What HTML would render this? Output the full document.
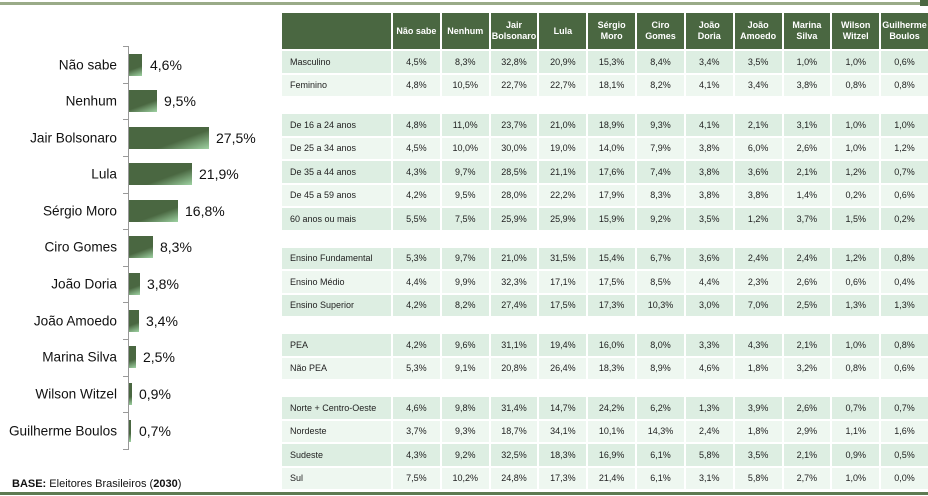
<!DOCTYPE html>
<html><head><meta charset="utf-8"><style>
body{margin:0;width:928px;height:496px;position:relative;background:#fff;font-family:"Liberation Sans",Arial,sans-serif;overflow:hidden}
.topline{position:absolute;left:0;top:2px;width:920px;height:3px;background:#9aab88}
.corner{position:absolute;left:920px;top:0;width:8px;height:6px;background:#4a6741}
.botline{position:absolute;left:0;top:492px;width:928px;height:3px;background:#5e7a52}
.lab{position:absolute;right:811px;font-size:13.6px;color:#111;white-space:nowrap;transform:translateY(-50%)}
.bar{position:absolute;left:129px;height:22px;background:linear-gradient(160deg,#4a6741 0%,#4a6741 62%,#9fd3a3 100%);transform:translateY(-50%)}
.val{position:absolute;font-size:14px;color:#111;transform:translateY(-50%)}
.axis{position:absolute;left:128px;top:46px;width:1px;height:404px;background:#999}
.tick{position:absolute;left:123px;width:5px;height:1px;background:#999}
.base{position:absolute;left:12px;top:478px;font-size:11px;color:#111}
table{position:absolute;left:280px;top:11px;border-collapse:separate;border-spacing:2px;table-layout:fixed;width:650px}
th{background:#4a6741;color:#fff;font-size:9px;font-weight:bold;height:36px;padding:0;line-height:11px;text-align:center}
td{font-size:9px;color:#222;height:21.5px;padding:0;text-align:center}
td:first-child{text-align:left;padding-left:8px}
tr.d td{background:#ddeee2}
tr.l td{background:#eef7f0}
tr.s td{height:14px;background:#fff}
</style></head><body>
<div class="topline"></div><div class="corner"></div><div class="botline"></div>
<div class="axis"></div>
<div class="tick" style="top:46px"></div><div class="tick" style="top:83px"></div><div class="tick" style="top:119px"></div><div class="tick" style="top:156px"></div><div class="tick" style="top:193px"></div><div class="tick" style="top:229px"></div><div class="tick" style="top:266px"></div><div class="tick" style="top:302px"></div><div class="tick" style="top:339px"></div><div class="tick" style="top:376px"></div><div class="tick" style="top:412px"></div><div class="tick" style="top:449px"></div>

<div class="lab" style="top:65px">Não sabe</div><div class="bar" style="top:65px;width:13px"></div><div class="val" style="top:65px;left:150px">4,6%</div>
<div class="lab" style="top:101px">Nenhum</div><div class="bar" style="top:101px;width:28px"></div><div class="val" style="top:101px;left:164px">9,5%</div>
<div class="lab" style="top:138px">Jair Bolsonaro</div><div class="bar" style="top:138px;width:80px"></div><div class="val" style="top:138px;left:216px">27,5%</div>
<div class="lab" style="top:174px">Lula</div><div class="bar" style="top:174px;width:63px"></div><div class="val" style="top:174px;left:199px">21,9%</div>
<div class="lab" style="top:211px">Sérgio Moro</div><div class="bar" style="top:211px;width:49px"></div><div class="val" style="top:211px;left:185px">16,8%</div>
<div class="lab" style="top:247px">Ciro Gomes</div><div class="bar" style="top:247px;width:24px"></div><div class="val" style="top:247px;left:160px">8,3%</div>
<div class="lab" style="top:284px">João Doria</div><div class="bar" style="top:284px;width:11px"></div><div class="val" style="top:284px;left:147px">3,8%</div>
<div class="lab" style="top:321px">João Amoedo</div><div class="bar" style="top:321px;width:10px"></div><div class="val" style="top:321px;left:146px">3,4%</div>
<div class="lab" style="top:357px">Marina Silva</div><div class="bar" style="top:357px;width:7px"></div><div class="val" style="top:357px;left:143px">2,5%</div>
<div class="lab" style="top:394px">Wilson Witzel</div><div class="bar" style="top:394px;width:3px"></div><div class="val" style="top:394px;left:139px">0,9%</div>
<div class="lab" style="top:431px">Guilherme Boulos</div><div class="bar" style="top:431px;width:2px"></div><div class="val" style="top:431px;left:139px">0,7%</div>
<div class="base"><b>BASE:</b> Eleitores Brasileiros (<b>2030</b>)</div>

<table>
<colgroup><col style="width:109px"><col span="11"></colgroup>
<tr><th></th><th>Não sabe</th><th>Nenhum</th><th>Jair<br>Bolsonaro</th><th>Lula</th><th>Sérgio<br>Moro</th><th>Ciro<br>Gomes</th><th>João<br>Doria</th><th>João<br>Amoedo</th><th>Marina<br>Silva</th><th>Wilson<br>Witzel</th><th>Guilherme<br>Boulos</th></tr>
<tr class="d"><td>Masculino</td><td>4,5%</td><td>8,3%</td><td>32,8%</td><td>20,9%</td><td>15,3%</td><td>8,4%</td><td>3,4%</td><td>3,5%</td><td>1,0%</td><td>1,0%</td><td>0,6%</td></tr>
<tr class="l"><td>Feminino</td><td>4,8%</td><td>10,5%</td><td>22,7%</td><td>22,7%</td><td>18,1%</td><td>8,2%</td><td>4,1%</td><td>3,4%</td><td>3,8%</td><td>0,8%</td><td>0,8%</td></tr>
<tr class="s"><td colspan="12"></td></tr>
<tr class="d"><td>De 16 a 24 anos</td><td>4,8%</td><td>11,0%</td><td>23,7%</td><td>21,0%</td><td>18,9%</td><td>9,3%</td><td>4,1%</td><td>2,1%</td><td>3,1%</td><td>1,0%</td><td>1,0%</td></tr>
<tr class="l"><td>De 25 a 34 anos</td><td>4,5%</td><td>10,0%</td><td>30,0%</td><td>19,0%</td><td>14,0%</td><td>7,9%</td><td>3,8%</td><td>6,0%</td><td>2,6%</td><td>1,0%</td><td>1,2%</td></tr>
<tr class="d"><td>De 35 a 44 anos</td><td>4,3%</td><td>9,7%</td><td>28,5%</td><td>21,1%</td><td>17,6%</td><td>7,4%</td><td>3,8%</td><td>3,6%</td><td>2,1%</td><td>1,2%</td><td>0,7%</td></tr>
<tr class="l"><td>De 45 a 59 anos</td><td>4,2%</td><td>9,5%</td><td>28,0%</td><td>22,2%</td><td>17,9%</td><td>8,3%</td><td>3,8%</td><td>3,8%</td><td>1,4%</td><td>0,2%</td><td>0,6%</td></tr>
<tr class="d"><td>60 anos ou mais</td><td>5,5%</td><td>7,5%</td><td>25,9%</td><td>25,9%</td><td>15,9%</td><td>9,2%</td><td>3,5%</td><td>1,2%</td><td>3,7%</td><td>1,5%</td><td>0,2%</td></tr>
<tr class="s"><td colspan="12"></td></tr>
<tr class="d"><td>Ensino Fundamental</td><td>5,3%</td><td>9,7%</td><td>21,0%</td><td>31,5%</td><td>15,4%</td><td>6,7%</td><td>3,6%</td><td>2,4%</td><td>2,4%</td><td>1,2%</td><td>0,8%</td></tr>
<tr class="l"><td>Ensino Médio</td><td>4,4%</td><td>9,9%</td><td>32,3%</td><td>17,1%</td><td>17,5%</td><td>8,5%</td><td>4,4%</td><td>2,3%</td><td>2,6%</td><td>0,6%</td><td>0,4%</td></tr>
<tr class="d"><td>Ensino Superior</td><td>4,2%</td><td>8,2%</td><td>27,4%</td><td>17,5%</td><td>17,3%</td><td>10,3%</td><td>3,0%</td><td>7,0%</td><td>2,5%</td><td>1,3%</td><td>1,3%</td></tr>
<tr class="s"><td colspan="12"></td></tr>
<tr class="d"><td>PEA</td><td>4,2%</td><td>9,6%</td><td>31,1%</td><td>19,4%</td><td>16,0%</td><td>8,0%</td><td>3,3%</td><td>4,3%</td><td>2,1%</td><td>1,0%</td><td>0,8%</td></tr>
<tr class="l"><td>Não PEA</td><td>5,3%</td><td>9,1%</td><td>20,8%</td><td>26,4%</td><td>18,3%</td><td>8,9%</td><td>4,6%</td><td>1,8%</td><td>3,2%</td><td>0,8%</td><td>0,6%</td></tr>
<tr class="s"><td colspan="12"></td></tr>
<tr class="d"><td>Norte + Centro-Oeste</td><td>4,6%</td><td>9,8%</td><td>31,4%</td><td>14,7%</td><td>24,2%</td><td>6,2%</td><td>1,3%</td><td>3,9%</td><td>2,6%</td><td>0,7%</td><td>0,7%</td></tr>
<tr class="l"><td>Nordeste</td><td>3,7%</td><td>9,3%</td><td>18,7%</td><td>34,1%</td><td>10,1%</td><td>14,3%</td><td>2,4%</td><td>1,8%</td><td>2,9%</td><td>1,1%</td><td>1,6%</td></tr>
<tr class="d"><td>Sudeste</td><td>4,3%</td><td>9,2%</td><td>32,5%</td><td>18,3%</td><td>16,9%</td><td>6,1%</td><td>5,8%</td><td>3,5%</td><td>2,1%</td><td>0,9%</td><td>0,5%</td></tr>
<tr class="l"><td>Sul</td><td>7,5%</td><td>10,2%</td><td>24,8%</td><td>17,3%</td><td>21,4%</td><td>6,1%</td><td>3,1%</td><td>5,8%</td><td>2,7%</td><td>1,0%</td><td>0,0%</td></tr>
</table>
</body></html>
